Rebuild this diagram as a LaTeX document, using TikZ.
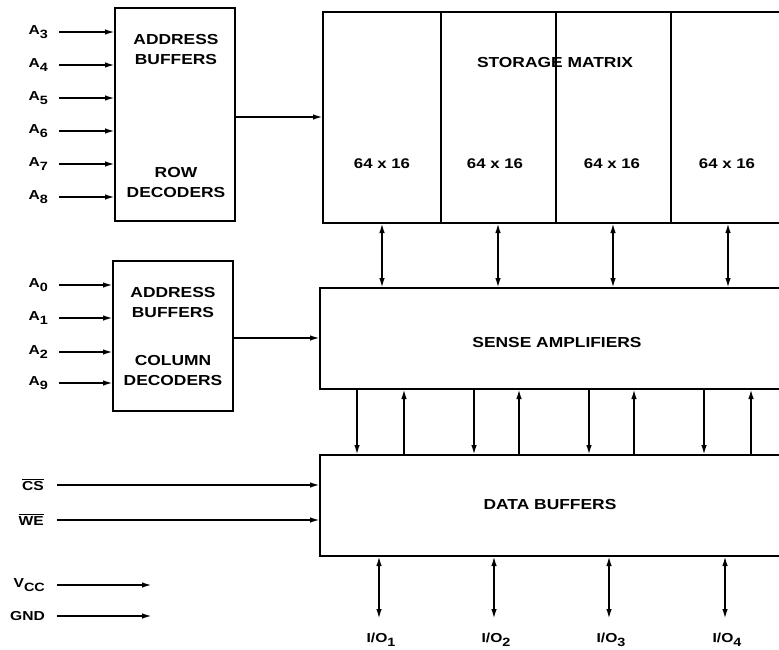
\documentclass[tikz,border=0pt]{standalone}
\usepackage{fontspec}
\usetikzlibrary{arrows.meta}
\newfontfamily\dfont{Liberation Sans}[FakeStretch=1.2]
\newcommand\sbs[1]{\raisebox{-3.5pt}{\fontsize{12}{12}\selectfont #1}}
\newcommand\ovl[1]{\leavevmode\vbox{\hrule height 1.4pt \kern1.6pt\hbox{#1}}}
\begin{document}
\begin{tikzpicture}[x=1pt,y=-1pt,
  blk/.style={draw, line width=2.8pt, fill=white, inner sep=0pt, outer sep=0pt, anchor=north west},
  conn/.style={line width=1.8pt},
  arr/.style={conn, -{Latex[length=10pt,width=5.5pt]}},
  darr/.style={conn, {Latex[length=10pt,width=5.5pt]}-{Latex[length=10pt,width=5.5pt]}},
  lbl/.style={font=\dfont\bfseries\fontsize{13}{14}\selectfont, inner sep=0pt, anchor=east},
  txt/.style={font=\dfont\bfseries\fontsize{14.5}{20}\selectfont, inner sep=0pt, align=center},
  small/.style={font=\dfont\bfseries\fontsize{14}{15}\selectfont, inner sep=0pt}]
\useasboundingbox (0,0) rectangle (779,650);
\clip (0,0) rectangle (779,650);
\fill[white] (0,0) rectangle (779,650);

% blocks
\node[blk, minimum width=120pt, minimum height=213pt] (rowdec) at (115,8) {};
\node[blk, minimum width=120pt, minimum height=150pt] (coldec) at (113,261) {};
\node[blk, minimum width=490pt, minimum height=211pt] (sm) at (323,12) {};
\node[blk, minimum width=490pt, minimum height=101pt] (sa) at (320,288) {};
\node[blk, minimum width=490pt, minimum height=101pt] (db) at (320,455) {};

% storage dividers
\foreach \x in {441,556,671}{
  \draw[line width=2.8pt] (sm.north -| \x,0) -- (sm.south -| \x,0);
}

% block texts
\node[txt] (t1) at (176,50) {ADDRESS\\BUFFERS};
\node[txt] (t2) at (176,183) {ROW\\DECODERS};
\node[txt] (t3) at (173,303) {ADDRESS\\BUFFERS};
\node[txt] (t4) at (173,371) {COLUMN\\DECODERS};
\node[txt] (t5) at (555,63) {STORAGE MATRIX};
\node[small] (c1) at (382,164) {64\,\,x\,\,16};
\node[small] (c2) at (495,164) {64\,\,x\,\,16};
\node[small] (c3) at (612,164) {64\,\,x\,\,16};
\node[small] (c4) at (727,164) {64\,\,x\,\,16};
\node[txt] (t6) at (557,343) {SENSE AMPLIFIERS};
\node[txt] (t7) at (550,505) {DATA BUFFERS};

% row address inputs
\foreach \n/\y in {3/32,4/65,5/98,6/131,7/164,8/197}{
  \node[lbl] (la\n) at (48,\y) {A\sbs{\n}};
  \coordinate (sa\n) at (59,\y);
  \draw[arr] (sa\n) -- (sa\n -| rowdec.west);
}
% column address inputs
\foreach \n/\y in {0/285,1/318,2/352,9/383}{
  \node[lbl] (lc\n) at (48,\y) {A\sbs{\n}};
  \coordinate (sc\n) at (59,\y);
  \draw[arr] (sc\n) -- (sc\n -| coldec.west);
}

% decoder outputs
\coordinate (ro) at (235,117);
\draw[arr] (ro) -- (ro -| sm.west);
\coordinate (co) at (233,338);
\draw[arr] (co) -- (co -| sa.west);

% storage <-> sense
\foreach \x in {382,498,613,728}{
  \draw[darr] (sm.south -| \x,0) -- (sa.north -| \x,0);
}
% sense -> data (down) and data -> sense (up)
\foreach \x in {357,474,589,704}{
  \draw[arr] (sa.south -| \x,0) -- (db.north -| \x,0);
}
\foreach \x in {404,519,634,751}{
  \draw[arr] (db.north -| \x,0) -- (sa.south -| \x,0);
}

% I/O
\foreach \n/\x in {1/379,2/494,3/609,4/725}{
  \coordinate (io\n) at (\x,619);
  \draw[darr] (db.south -| io\n) -- (io\n);
  \node[lbl, anchor=center] (lio\n) at (\x+2,640) {I/O\sbs{\n}};
}

% control inputs
\node[lbl] (lcs) at (44,485) {\ovl{CS}};
\coordinate (scs) at (57,485);
\draw[arr] (scs) -- (scs -| db.west);
\node[lbl] (lwe) at (44,520) {\ovl{WE}};
\coordinate (swe) at (57,520);
\draw[arr] (swe) -- (swe -| db.west);

% power
\node[lbl] (lvcc) at (45,585) {V\sbs{CC}};
\coordinate (svcc) at (57,585);
\coordinate (evcc) at (152,585);
\draw[arr] (svcc) -- (evcc);
\node[lbl] (lgnd) at (45,616) {GND};
\coordinate (sgnd) at (57,616);
\coordinate (egnd) at (152,616);
\draw[arr] (sgnd) -- (egnd);
\end{tikzpicture}
\end{document}
